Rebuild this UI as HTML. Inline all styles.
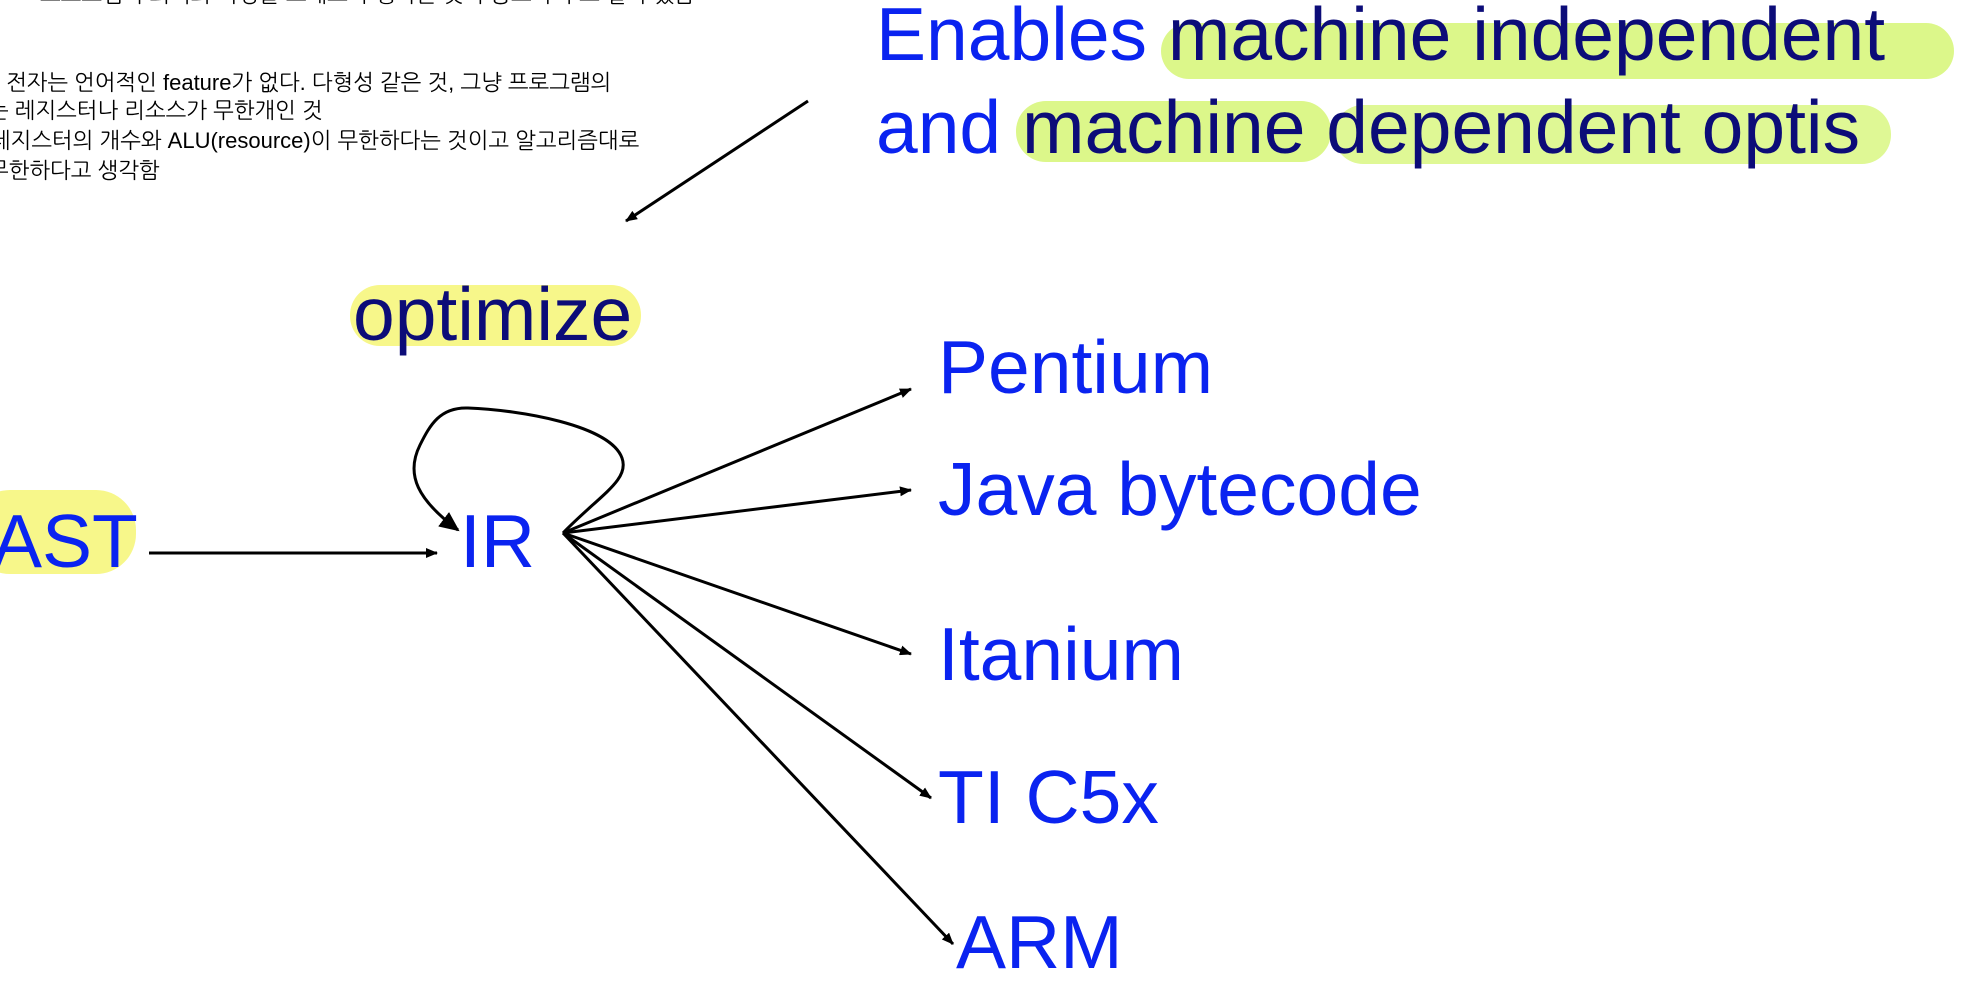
<!DOCTYPE html>
<html><head><meta charset="utf-8"><style>
html,body{margin:0;padding:0;background:#fff;width:1979px;height:1000px;overflow:hidden}
svg{display:block}
.big{font-family:"Liberation Sans",Arial,sans-serif;font-size:75px;fill:#0a23f0}
.nav{fill:#0c0c78}
.kr{font-family:"Liberation Sans","NanumGothic","Noto Sans CJK KR",sans-serif;font-size:22px;fill:#000}
</style></head><body>
<svg width="1979" height="1000" viewBox="0 0 1979 1000" xmlns="http://www.w3.org/2000/svg">
<defs>
<marker id="a" markerWidth="12" markerHeight="10" refX="11" refY="5" orient="auto" markerUnits="userSpaceOnUse"><path d="M0,0 L12,5 L0,10 z" fill="#000"/></marker>
<marker id="b" markerWidth="20" markerHeight="18" refX="18" refY="9" orient="auto" markerUnits="userSpaceOnUse"><path d="M0,0 L20,9 L0,18 z" fill="#000"/></marker>
</defs>
<text class="kr" x="40" y="2">프로그램의 최적화 과정을 그대로 수행하는 것이 중요하며 그 결과 있음</text>
<text class="kr" x="6" y="90">전자는 언어적인 feature가 없다. 다형성 같은 것, 그냥 프로그램의</text>
<text class="kr" x="-12" y="118">는 레지스터나 리소스가 무한개인 것</text>
<text class="kr" x="-10" y="148">레지스터의 개수와 ALU(resource)이 무한하다는 것이고 알고리즘대로</text>
<text class="kr" x="-12" y="178">무한하다고 생각함</text>
<rect x="1161" y="23" width="793" height="56" rx="28" fill="#dcf78a"/>
<rect x="1016" y="101" width="315" height="61" rx="30" fill="#dcf78a"/>
<rect x="1334" y="105" width="557" height="59" rx="29" fill="#dcf78a" opacity="0.9"/>
<rect x="350" y="285" width="291" height="61" rx="30" fill="#f7f78a"/>
<rect x="-30" y="490" width="166" height="84" rx="40" fill="#f7f78a"/>
<text class="big" x="876" y="60">Enables <tspan class="nav">machine independent</tspan></text>
<text class="big" x="876" y="153">and <tspan class="nav">machine dependent optis</tspan></text>
<text class="big nav" x="353" y="340">optimize</text>
<text class="big" x="-8" y="567">AST</text>
<text class="big" x="460" y="567">IR</text>
<text class="big" x="938" y="393">Pentium</text>
<text class="big" x="938" y="515">Java bytecode</text>
<text class="big" x="938" y="680">Itanium</text>
<text class="big" x="938" y="823">TI C5x</text>
<text class="big" x="956" y="968">ARM</text>
<g stroke="#000" stroke-width="3" fill="none">
<line x1="808" y1="101" x2="626" y2="221" marker-end="url(#a)"/>
<line x1="149" y1="553" x2="437" y2="553" marker-end="url(#a)"/>
<line x1="563" y1="533" x2="911" y2="389" marker-end="url(#a)"/>
<line x1="563" y1="533" x2="911" y2="490" marker-end="url(#a)"/>
<line x1="563" y1="533" x2="911" y2="654" marker-end="url(#a)"/>
<line x1="563" y1="533" x2="931" y2="798" marker-end="url(#a)"/>
<line x1="563" y1="533" x2="953" y2="944" marker-end="url(#a)"/>
<path d="M563,533 C600,495 630,480 622,458 C610,425 520,410 468,408 C440,407 430,425 420,445 C405,475 418,500 458,530" marker-end="url(#b)"/>
</g>
</svg>
</body></html>
